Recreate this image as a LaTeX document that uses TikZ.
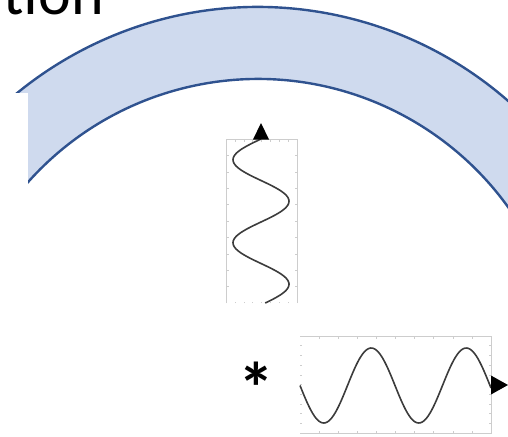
\documentclass[tikz,border=0pt]{standalone}
\usepackage{fontspec}
\setmainfont{Carlito}
\definecolor{bandfill}{RGB}{207,218,238}
\definecolor{bandline}{RGB}{47,82,143}
\definecolor{wavegray}{RGB}{60,60,60}
\definecolor{framegray}{RGB}{205,205,205}
\begin{document}
\begin{tikzpicture}[x=1pt,y=-1pt,
    band/.style={fill=bandfill,draw=bandline,line width=2.4pt},
    wave/.style={draw=wavegray,line width=1.6pt,smooth,samples=120},
    plotframe/.style={draw=framegray,line width=0.9pt},
    plottick/.style={draw=framegray,line width=0.6pt},
    bigtext/.style={inner sep=0,font=\fontsize{62}{74}\selectfont}]
    \useasboundingbox (0,0) rectangle (508,436);
    \begin{scope}
        \clip (0,0) rectangle (508,436);
        \coordinate (c) at (258,387);
        \draw[band] (c) ++(-165:380) arc[start angle=-165,end angle=-15,radius=380]
            -- ++(165:72) arc[start angle=-15,end angle=-165,radius=308] -- cycle;
        \fill[white] (0,93) rectangle (28,436);
    \end{scope}
    \node[bigtext,anchor=base east] (title) at (104,15) {tion};

    \draw[plotframe] (226,303) -- (226,139) -- (297,139) -- (297,303);
    \foreach \k in {1,...,9} {
        \draw[plottick] (226,{139+16.4*\k}) -- ++(2.5,0);
        \draw[plottick] (297,{139+16.4*\k}) -- ++(-2.5,0);
    }
    \foreach \k in {1,...,7} \draw[plottick] ({226+8.9*\k},139) -- ++(0,2.5);
    \foreach \k in {0,...,8} \draw[plottick] ({226+8.9*\k},303) -- ++(0,-1.5);
    \draw[wave] plot[domain=139:303] ({261-28*sin((\x-139)/83*360)},\x);
    \fill (261,123) -- (269,139.5) -- (253,139.5) -- cycle;

    \node[bigtext,anchor=north,font=\fontsize{72}{80}\selectfont\bfseries] (conv) at (256,362) {*};

    \draw[plotframe] (300,336) -- (491,336) -- (491,433) -- (300,433);
    \foreach \k in {0,...,10} \draw[plottick] (300,{336+9.7*\k}) -- ++(2,0);
    \foreach \k in {1,...,9} {
        \draw[plottick] (491,{336+9.7*\k}) -- ++(-2.5,0);
        \draw[plottick] ({300+19.1*\k},336) -- ++(0,2.5);
        \draw[plottick] ({300+19.1*\k},433) -- ++(0,-2.5);
    }
    \draw[wave] plot[domain=300:491] (\x,{385.5+37.5*sin((\x-300)/95*360)});
    \fill (491,375.5) -- (508,385) -- (491,394.5) -- cycle;
\end{tikzpicture}
\end{document}
